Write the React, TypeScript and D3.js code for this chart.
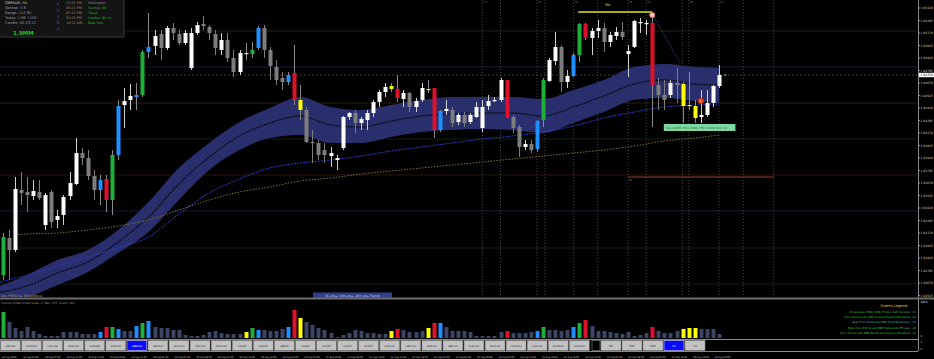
import React from 'react';
import * as d3 from 'd3';

const WIDTH = 934;
const HEIGHT = 359;
const AXIS_X = 918;
const MAIN_BOTTOM = 297;

// GBPAUD H1 candles
const opens = [
  1.9258, 1.9275, 1.9312, 1.93, 1.936, 1.9358, 1.9354, 1.9358, 1.9325, 1.9358,
  1.933, 1.9335, 1.9354, 1.9366, 1.9397, 1.9392, 1.9374, 1.936, 1.9371, 1.935,
  1.9395, 1.9445, 1.945, 1.9453, 1.9455, 1.9498, 1.9504, 1.9516, 1.9502, 1.9522,
  1.9516, 1.9507, 1.9482, 1.9517, 1.9526, 1.9523, 1.9516, 1.95, 1.951, 1.9492,
  1.9478, 1.9497, 1.9496, 1.9502, 1.9522, 1.95, 1.9483, 1.9472, 1.9468, 1.9477,
  1.945, 1.944, 1.9408, 1.9407, 1.94, 1.9394, 1.939, 1.9402, 1.9433, 1.9437,
  1.9427, 1.943, 1.9437, 1.9448, 1.9458, 1.9461, 1.9461, 1.9451, 1.9457, 1.9443,
  1.945, 1.9461, 1.9462, 1.942, 1.9439, 1.944, 1.9428, 1.9435, 1.9428, 1.9433,
  1.9422, 1.9444, 1.9449, 1.945, 1.947, 1.9433, 1.9423, 1.9403, 1.9406, 1.9401,
  1.943, 1.9469, 1.9489, 1.9503, 1.9468, 1.9474, 1.9495, 1.9526, 1.9512, 1.9519,
  1.9522, 1.9508, 1.9514, 1.9518, 1.9496, 1.9503, 1.9527, 1.9526, 1.9527, 1.9465,
  1.9455, 1.9455, 1.9467, 1.9466, 1.9445, 1.9444, 1.9433, 1.9435, 1.9447, 1.9464,
];
const highs = [
  1.928, 1.9317, 1.932, 1.9373, 1.9378, 1.9373, 1.937, 1.937, 1.9357, 1.936,
  1.934, 1.9355, 1.9378, 1.9412, 1.9402, 1.94, 1.938, 1.9375, 1.9375, 1.94,
  1.945, 1.9462, 1.9466, 1.9467, 1.95, 1.9537, 1.952, 1.952, 1.9524, 1.9527,
  1.952, 1.952, 1.9522, 1.9528, 1.9534, 1.9525, 1.952, 1.9517, 1.9517, 1.95,
  1.95, 1.9507, 1.9508, 1.9524, 1.9525, 1.9503, 1.949, 1.9478, 1.9478, 1.9505,
  1.9465, 1.9443, 1.942, 1.941, 1.9407, 1.9403, 1.9395, 1.9434, 1.9438, 1.944,
  1.9433, 1.944, 1.945, 1.946, 1.9467, 1.9467, 1.9475, 1.946, 1.9458, 1.9452,
  1.9467, 1.947, 1.9462, 1.944, 1.945, 1.9443, 1.9437, 1.9438, 1.9437, 1.9448,
  1.945, 1.9455, 1.9453, 1.9472, 1.947, 1.9435, 1.9425, 1.941, 1.941, 1.943,
  1.9472, 1.9492, 1.9518, 1.9505, 1.948, 1.9497, 1.9527, 1.9527, 1.9522, 1.953,
  1.9527, 1.9518, 1.9523, 1.9528, 1.9505, 1.953, 1.9532, 1.953, 1.9537, 1.9472,
  1.947, 1.947, 1.9482, 1.9468, 1.9478, 1.945, 1.946, 1.946, 1.9465, 1.9485,
];
const lows = [
  1.9254, 1.927, 1.927, 1.9298, 1.9345, 1.9338, 1.935, 1.935, 1.932, 1.9322,
  1.9322, 1.9325, 1.935, 1.9365, 1.9385, 1.937, 1.935, 1.9345, 1.9338, 1.9335,
  1.939, 1.9422, 1.944, 1.944, 1.9453, 1.9492, 1.9495, 1.949, 1.95, 1.951,
  1.9505, 1.9505, 1.948, 1.9515, 1.952, 1.951, 1.9495, 1.9495, 1.9488, 1.9473,
  1.9475, 1.949, 1.9492, 1.95, 1.9492, 1.947, 1.9465, 1.946, 1.9465, 1.9445,
  1.943, 1.9407, 1.9387, 1.939, 1.9387, 1.9383, 1.938, 1.94, 1.943, 1.9417,
  1.942, 1.942, 1.9433, 1.9443, 1.9453, 1.9458, 1.9448, 1.9443, 1.9438, 1.9438,
  1.9448, 1.9457, 1.9412, 1.9418, 1.9435, 1.9423, 1.9425, 1.9423, 1.9426, 1.9432,
  1.9418, 1.944, 1.9448, 1.9448, 1.9432, 1.9417, 1.9393, 1.94, 1.9397, 1.9398,
  1.9423, 1.9468, 1.9485, 1.9458, 1.9462, 1.9473, 1.9488, 1.951, 1.9495, 1.9512,
  1.9498, 1.9503, 1.951, 1.951, 1.9473, 1.9502, 1.9517, 1.9515, 1.9423, 1.944,
  1.944, 1.9452, 1.9447, 1.9427, 1.944, 1.9427, 1.9427, 1.9433, 1.9443, 1.9462,
];
const closes = [
  1.9274, 1.9313, 1.93, 1.9361, 1.9357, 1.9355, 1.9359, 1.9352, 1.9355, 1.9328,
  1.9334, 1.9353, 1.9367, 1.9397, 1.9392, 1.9374, 1.936, 1.937, 1.935, 1.9395,
  1.9444, 1.9449, 1.9454, 1.9455, 1.9498, 1.9503, 1.9514, 1.9502, 1.9522, 1.9517,
  1.9507, 1.9517, 1.9517, 1.9525, 1.9524, 1.9517, 1.9502, 1.951, 1.9492, 1.9478,
  1.9497, 1.9496, 1.95, 1.9522, 1.95, 1.9484, 1.947, 1.9468, 1.9475, 1.945,
  1.944, 1.9408, 1.9407, 1.9395, 1.9395, 1.9397, 1.9392, 1.9433, 1.9437, 1.9427,
  1.9431, 1.9437, 1.9448, 1.9458, 1.9463, 1.9464, 1.9452, 1.9457, 1.9443, 1.9449,
  1.9462, 1.946, 1.942, 1.9439, 1.9441, 1.9427, 1.9435, 1.9427, 1.9435, 1.9443,
  1.9443, 1.9449, 1.945, 1.947, 1.9433, 1.9422, 1.9403, 1.9406, 1.94, 1.9429,
  1.947, 1.949, 1.9503, 1.9468, 1.9474, 1.9495, 1.9526, 1.9512, 1.9519, 1.9522,
  1.9508, 1.9515, 1.9518, 1.9513, 1.9499, 1.9529, 1.9528, 1.9527, 1.9465, 1.9455,
  1.945, 1.9467, 1.9465, 1.9444, 1.9444, 1.9432, 1.9435, 1.9447, 1.9464, 1.9475,
];

// bars painted by the signal indicator
const greenBars = [1, 19, 24, 42, 90, 96];
const blueBars = [0, 17, 20, 23, 25, 43, 48, 73, 89, 95];
const redBars = [18, 49, 66, 72, 84, 97, 108];
const yellowBars = [41, 50, 65, 71, 113, 114, 115];

const volumes = [
  1300, 2600, 1600, 1000, 700, 1100, 700, 400, 200, 200,
  200, 600, 600, 600, 400, 400, 400, 600, 1100, 1100,
  900, 700, 700, 1200, 1500, 1700, 1100, 1000, 1000, 800,
  800, 300, 200, 200, 300, 600, 700, 500, 400, 400,
  400, 600, 1000, 800, 800, 700, 700, 900, 1100, 2800,
  2000, 1600, 1300, 1000, 800, 500, 100, 300, 500, 800,
  700, 500, 500, 400, 400, 700, 900, 800, 600, 600,
  700, 1000, 1500, 1500, 1100, 700, 700, 700, 600, 200,
  200, 200, 200, 600, 700, 500, 500, 500, 600, 700,
  1100, 800, 800, 700, 800, 1100, 1500, 1800, 1200, 700,
  700, 600, 500, 400, 600, 200, 300, 500, 1100, 700,
  500, 500, 700, 900, 1000, 1000, 900, 900, 900, 400,
];

// moving average envelope + averages, sampled every 5 bars
const bandIdx = [0, 5, 10, 15, 20, 25, 30, 35, 40, 45, 50, 55, 60, 65, 70, 75, 80, 85, 90, 95, 100, 105, 110, 115, 119];
const bandUpper = [1.9263, 1.9275, 1.929, 1.93, 1.932, 1.9348, 1.9382, 1.9407, 1.9428, 1.9442, 1.9453, 1.9443, 1.944, 1.9445, 1.945, 1.9453, 1.9453, 1.9453, 1.9451, 1.946, 1.947, 1.9483, 1.9486, 1.9483, 1.9482];
const bandLower = [1.925, 1.9253, 1.9265, 1.9278, 1.9297, 1.9318, 1.935, 1.938, 1.94, 1.9412, 1.9415, 1.9407, 1.9407, 1.9413, 1.9418, 1.942, 1.9421, 1.942, 1.9417, 1.9427, 1.9438, 1.945, 1.9452, 1.9449, 1.9447];
const bandMid = [1.9257, 1.9264, 1.9277, 1.9288, 1.9308, 1.9333, 1.9366, 1.9393, 1.9414, 1.9427, 1.9434, 1.9425, 1.9423, 1.9429, 1.9434, 1.9436, 1.9437, 1.9437, 1.9434, 1.9443, 1.9454, 1.9466, 1.947, 1.9466, 1.9465];
const emaBlue = [1.9267, 1.9275, 1.9284, 1.9293, 1.9302, 1.9313, 1.9336, 1.9357, 1.9371, 1.9382, 1.9387, 1.939, 1.9394, 1.9399, 1.9403, 1.9407, 1.9411, 1.9414, 1.9418, 1.9424, 1.9432, 1.9438, 1.9443, 1.9445, 1.9446];
const smaIdx = [3, 5, 10, 15, 20, 25, 30, 35, 40, 45, 50, 55, 60, 65, 70, 75, 80, 85, 90, 95, 100, 105, 110, 115, 119];
const smaOlive = [1.9315, 1.9316, 1.9317, 1.932, 1.9324, 1.933, 1.934, 1.935, 1.9358, 1.9363, 1.9369, 1.9372, 1.9376, 1.9379, 1.9382, 1.9385, 1.9388, 1.9391, 1.9394, 1.9397, 1.94, 1.9404, 1.9409, 1.9412, 1.9415];

const priceTicks = [
  1.9542, 1.95295, 1.9517, 1.95045, 1.9492, 1.94795, 1.9467, 1.94545, 1.9442, 1.94295, 1.9417, 1.94045,
  1.9392, 1.93795, 1.9367, 1.93545, 1.9342, 1.93295, 1.9317, 1.93045, 1.9292, 1.92795, 1.9267, 1.92545,
];
const bidPrice = 1.9475;

const levelPrices = [1.9519, 1.9483, 1.9447, 1.9411, 1.9375, 1.9339, 1.9302, 1.9266];
const levelColors = ['#2a1c0e', '#141a38', '#2a1c0e', '#0c2412', '#2c140e', '#141a38', '#2a1c0e', '#0c2412'];

const sessionLines = [80, 83, 89, 90.3, 95, 99, 104, 107, 113, 114, 119, 123, 128];
const sessionTags = ['13', '', '17', '', '20', '', '00', '03', '', '08', '12', '', ''];

const pairTabs = [
  'GBPUSD', 'EURUSD', 'USDCAD', 'NZDUSD', 'EURGBP', 'EURAUD', 'GBPAUD', 'GBPNZD', 'AUDCAD', 'USDCHF',
  'NZDCAD', 'CADJPY', 'NZDJPY', 'GBPJPY', 'USDJPY', 'AUDJPY', 'CHFJPY', 'EURJPY', 'EURCAD', 'GBPCAD',
  'EURCHF', 'GBPCHF', 'AUDCHF', 'NZDCHF', 'USDSGD', 'CADCHF', 'EURNZD', 'AUDNZD',
];
const activePair = 'GBPAUD';
const timeframeTabs = ['M5', 'M15', 'M30', 'H1', 'H4'];
const activeTf = 'H1';

const dateLabels = [
  '19 Aug 2008', '19 Aug 04:00', '19 Aug 07:00', '19 Aug 11:00', '19 Aug 14:00', '19 Aug 18:00', '19 Aug 21:00',
  '20 Aug 01:00', '20 Aug 04:00', '20 Aug 08:00', '20 Aug 11:00', '20 Aug 15:00', '20 Aug 18:00', '20 Aug 22:00',
  '21 Aug 01:00', '21 Aug 05:00', '21 Aug 08:00', '21 Aug 12:00', '21 Aug 15:00', '21 Aug 19:00', '21 Aug 22:00',
  '22 Aug 02:00', '22 Aug 05:00', '22 Aug 09:00', '22 Aug 12:00', '22 Aug 16:00', '22 Aug 19:00', '22 Aug 23:00',
  '25 Aug 02:00', '25 Aug 06:00', '25 Aug 09:00', '25 Aug 13:00', '25 Aug 16:00', '25 Aug 20:00',
];

const infoRows = ['GBPAUD, H1', 'Spread: 5.8', 'Range: 112  65', 'Today: 1.96 +150', 'Candle: 00:23:12'];
const infoLetters = ['F', 'V', 'S', 'R', 'A'];
const sessionTimes = ['11:21 PM', '05:21 PM', '07:21 PM', '03:21 PM', '10:21 AM'];
const sessionNames = ['Wellington', 'Sydney (B)', 'Tokyo', 'London (B+1)', 'New York'];

const legendLines = [
  'Cross above EMA (VMA) Heiken Ashi Candles : 25',
  'Price Closes with ADX Crossed Pyramid Breakout : 23',
  'Align Price Holds and ADX Trend Expansion : 24',
  'Edge Price Enters and MBF Rebounds off Lows : 26',
  'Price Closes with MBP Bands and Squeeze Breakout : 26',
];
const legendColors = ['#3fcf3f', '#3fcf3f', '#5fb8c8', '#3fcf3f', '#3fcf3f'];

const FONT = 'DejaVu Sans, sans-serif';

const barColor = (i: number) => {
  if (greenBars.includes(i)) return '#1fae3a';
  if (blueBars.includes(i)) return '#1e8fff';
  if (redBars.includes(i)) return '#e0102a';
  if (yellowBars.includes(i)) return '#ffff00';
  return null;
};

const App: React.FC = () => {
  const x = d3.scaleLinear().domain([0, 120]).range([-3.3, 725.1]);
  const y = d3.scaleLinear().domain([1.9253, 1.955]).range([MAIN_BOTTOM, 0]);
  const vy = d3.scaleLinear().domain([0, 4000]).range([338, 298]);

  const pts = (idx: number[], vals: number[]) => idx.map((d, k) => [d, vals[k]] as [number, number]);
  const line = d3
    .line<[number, number]>()
    .x((d) => x(d[0]))
    .y((d) => y(d[1]))
    .curve(d3.curveMonotoneX);
  const band = d3
    .area<number>()
    .x((d) => x(d))
    .y0((_, k) => y(bandLower[k]))
    .y1((_, k) => y(bandUpper[k]))
    .curve(d3.curveMonotoneX);

  const tabW = 21.07;

  return (
    <svg width={WIDTH} height={HEIGHT} style={{ position: 'absolute', left: 0, top: 0, background: '#000' }}>
      <defs>
        <clipPath id='main-clip'>
          <rect x={0} y={0} width={AXIS_X} height={MAIN_BOTTOM} />
        </clipPath>
      </defs>
      <rect width={WIDTH} height={HEIGHT} fill='#000' />

      <g clipPath='url(#main-clip)'>
        {/* pivot style level lines */}
        {levelPrices.map((p, k) => (
          <line key={'lv' + k} x1={0} x2={AXIS_X} y1={y(p)} y2={y(p)} stroke={levelColors[k]} strokeWidth={1} />
        ))}
        {/* session separators */}
        {sessionLines.map((s, k) => (
          <g key={'sl' + k}>
            <line x1={x(s)} x2={x(s)} y1={0} y2={MAIN_BOTTOM} stroke='#444' strokeDasharray='1,2' />
            {sessionTags[k] && (
              <text x={x(s) + 1} y={3} fontSize={2.6} fill='#777' fontFamily={FONT}>
                {sessionTags[k]}
              </text>
            )}
          </g>
        ))}
        {/* bid line */}
        <line x1={0} x2={AXIS_X} y1={y(bidPrice)} y2={y(bidPrice)} stroke='#3a3a3a' strokeDasharray='2,2' />

        {/* envelope */}
        <path d={band(bandIdx) || ''} fill='#292e6c' />
        <path d={line(pts(bandIdx, bandMid)) || ''} fill='none' stroke='#0c0c14' strokeWidth={1.4} strokeDasharray='2,1' />
        <path d={line(pts(bandIdx, emaBlue)) || ''} fill='none' stroke='#2c3cc8' strokeWidth={1} strokeDasharray='2,1' />
        <path d={line(pts(smaIdx, smaOlive)) || ''} fill='none' stroke='#7d7430' strokeWidth={1} strokeDasharray='1.5,1.5' />

        {/* candles */}
        {opens.map((o, i) => {
          const c = closes[i];
          const cx = Math.round(x(i)) + 0.5;
          const top = y(Math.max(o, c));
          const bot = y(Math.min(o, c));
          const sig = barColor(i);
          const body = sig || (c >= o ? '#ffffff' : '#7d7d7d');
          const wick = sig ? '#8a8a8a' : c >= o ? '#d0d0d0' : '#7d7d7d';
          return (
            <g key={'c' + i}>
              <line x1={cx} x2={cx} y1={y(highs[i])} y2={y(lows[i])} stroke={wick} strokeWidth={1} />
              <rect x={cx - 2} y={top} width={4} height={Math.max(1.2, bot - top)} fill={body} />
            </g>
          );
        })}

        {/* trade annotations */}
        <line x1={x(95.8)} x2={x(108)} y1={y(1.9538)} y2={y(1.9538)} stroke='#e6e600' strokeWidth={1.6} />
        <text x={x(100.6)} y={y(1.9544)} fontSize={3} fill='#e6e600' textAnchor='middle' fontFamily={FONT}>
          TBS
        </text>
        <line x1={x(108.3)} y1={y(1.9533)} x2={x(112.6)} y2={y(1.9487)} stroke='#3a4a90' strokeDasharray='1,1' />
        <circle cx={x(108)} cy={y(1.9535)} r={2.6} fill='#f2c4c4' stroke='#e06a6a' strokeWidth={0.8} />
        <circle cx={x(116)} cy={y(1.9449)} r={2.8} fill='#e0642a' stroke='#c01010' strokeWidth={0.8} />
        <rect x={x(109.9)} y={y(1.9426)} width={x(121.7) - x(109.9)} height={y(1.9419) - y(1.9426)} fill='#7ed9a0' />
        <text x={x(110.3)} y={y(1.9420) - 0.6} fontSize={2.6} fill='#1f5a2c' fontFamily={FONT}>
          Buy 1.9425, TP1 1.9498 / TP2 1.9526 (R/R 2.0)
        </text>
        <circle cx={x(120)} cy={y(1.9475)} r={1} fill='#20d020' />
        <line x1={x(104)} x2={x(128)} y1={y(1.9373)} y2={y(1.9373)} stroke='#9a3e28' strokeWidth={1} />
        <text x={x(104) + 1} y={y(1.9373) + 4} fontSize={2.6} fill='#8a8a8a' fontFamily={FONT}>
          S1
        </text>
      </g>

      {/* info panel */}
      <rect x={-1} y={-1} width={125} height={38} fill='#141414' stroke='#3a3a3a' strokeWidth={1} />
      {infoRows.map((t, k) => (
        <text key={'ir' + k} x={5} y={3.5 + k * 5.2} fontSize={3.6} fill={k === 0 ? '#d0d0d0' : '#9a9ab0'} fontFamily={FONT}>
          {t}
        </text>
      ))}
      <text x={13} y={34.5} fontSize={5.5} fontWeight='bold' fill='#22c422' fontFamily={FONT}>
        1.9MM
      </text>
      {infoLetters.map((t, k) => (
        <text key={'il' + k} x={57} y={6 + k * 6} fontSize={3.8} fill='#5656cc' fontFamily={FONT}>
          {t}
        </text>
      ))}
      {sessionTimes.map((t, k) => (
        <text key={'st' + k} x={66} y={4 + k * 5} fontSize={3.4} fill='#a88a5a' fontFamily={FONT}>
          {t}
        </text>
      ))}
      {sessionNames.map((t, k) => (
        <text key={'sn' + k} x={88} y={4 + k * 5} fontSize={3.4} fill={k === 0 ? '#8a8a8a' : '#2fae2f'} fontFamily={FONT}>
          {t}
        </text>
      ))}

      {/* bottom notes of the main pane */}
      <text x={1} y={296.5} fontSize={3.4} fill='#b49e6a' fontFamily={FONT}>
        Vol. PVRA by TradeWave
      </text>
      <rect x={313} y={292.5} width={79} height={5.5} fill='#2f3f8c' />
      <text x={352.5} y={296.6} fontSize={3.2} fill='#c8d0ff' textAnchor='middle' fontFamily={FONT}>
        36 ema, 100 ema, 200 sma Trends
      </text>

      {/* price axis */}
      <line x1={AXIS_X + 0.5} x2={AXIS_X + 0.5} y1={0} y2={351} stroke='#8a8a8a' />
      {priceTicks.map((p, k) => (
        <g key={'pt' + k}>
          <line x1={AXIS_X} x2={AXIS_X + 2} y1={y(p)} y2={y(p)} stroke='#8a8a8a' />
          <text x={AXIS_X + 2.5} y={y(p) + 1} fontSize={3} fill='#c8c8c8' fontFamily={FONT}>
            {d3.format('.5f')(p)}
          </text>
        </g>
      ))}
      <rect x={AXIS_X + 1} y={y(bidPrice) - 2.2} width={15} height={4.4} fill='#ffffff' />
      <text x={AXIS_X + 2.5} y={y(bidPrice) + 1} fontSize={3} fill='#000' fontFamily={FONT}>
        {d3.format('.5f')(bidPrice)}
      </text>

      {/* pane separator */}
      <rect x={0} y={297.5} width={WIDTH} height={2} fill='#6c6c6c' />

      {/* volume pane */}
      <text x={1} y={303.5} fontSize={2.8} fill='#9a9a9a' fontFamily={FONT}>
        Volume (PVRA) Chart Scale: 4, Max: 175, Count: 120
      </text>
      {volumes.map((v, i) => (
        <rect
          key={'v' + i}
          x={Math.round(x(i)) - 1.5}
          y={vy(v)}
          width={4}
          height={vy(0) - vy(v)}
          fill={barColor(i) || '#3b4565'}
        />
      ))}
      <text x={907} y={307} fontSize={3.6} fill='#e0d020' textAnchor='end' fontFamily={FONT}>
        Events Legend
      </text>
      {legendLines.map((t, k) => (
        <text key={'lg' + k} x={916} y={313 + k * 5.2} fontSize={2.7} fill={legendColors[k]} textAnchor='end' fontFamily={FONT}>
          {t}
        </text>
      ))}
      <text x={AXIS_X + 2.5} y={303} fontSize={2.8} fill='#c8c8c8' fontFamily={FONT}>
        4853
      </text>
      <text x={AXIS_X + 2.5} y={337} fontSize={2.8} fill='#c8c8c8' fontFamily={FONT}>
        0
      </text>

      {/* symbol / timeframe buttons */}
      <line x1={0} x2={AXIS_X} y1={339.5} y2={339.5} stroke='#8a8a8a' />
      {pairTabs.map((t, k) => {
        const on = t === activePair;
        return (
          <g key={'tab' + t}>
            <rect x={k * tabW + 0.5} y={340.5} width={tabW - 1.2} height={10} fill={on ? '#0a0aff' : '#c2c2c2'} stroke={on ? '#e0e0ff' : '#8a8a8a'} strokeWidth={0.6} />
            <text x={k * tabW + tabW / 2} y={346.5} fontSize={2.5} fill={on ? '#ffffff' : '#303030'} textAnchor='middle' fontFamily={FONT}>
              {t}
            </text>
          </g>
        );
      })}
      <rect x={592} y={340.5} width={8} height={10} fill='#000' stroke='#8a8a8a' strokeWidth={0.6} />
      {timeframeTabs.map((t, j) => {
        const on = t === activeTf;
        return (
          <g key={'tf' + t}>
            <rect x={601 + j * 21} y={340.5} width={20} height={10} fill={on ? '#0a0aff' : '#c2c2c2'} stroke={on ? '#e0e0ff' : '#8a8a8a'} strokeWidth={0.6} />
            <text x={611 + j * 21} y={346.5} fontSize={2.6} fill={on ? '#ffffff' : '#303030'} textAnchor='middle' fontFamily={FONT}>
              {t}
            </text>
          </g>
        );
      })}
      <line x1={0} x2={AXIS_X} y1={351.5} y2={351.5} stroke='#8a8a8a' />
      <text x={AXIS_X + 2.5} y={343} fontSize={2.6} fill='#c8c8c8' fontFamily={FONT}>
        1
      </text>
      <text x={AXIS_X + 2.5} y={350} fontSize={2.6} fill='#c8c8c8' fontFamily={FONT}>
        0
      </text>

      {/* time axis */}
      {dateLabels.map((t, k) => (
        <text key={'dt' + k} x={x(k * 3.56) + 5} y={357.5} fontSize={2.3} fill='#c8c8c8' fontFamily={FONT}>
          {t}
        </text>
      ))}
    </svg>
  );
};

export default App;
